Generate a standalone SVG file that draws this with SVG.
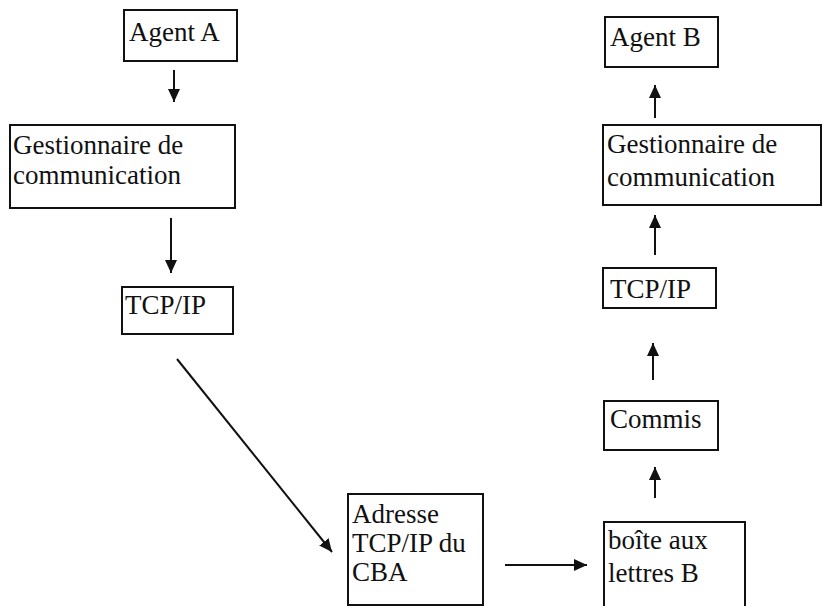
<svg xmlns="http://www.w3.org/2000/svg" width="823" height="606" viewBox="0 0 823 606">
  <style>
    .box { fill: none; stroke: #111; stroke-width: 2; }
    .edge { stroke: #111; stroke-width: 2; fill: none; marker-end: url(#head); }
    .lbl { font-family: 'Liberation Serif', 'Times New Roman', serif; font-size: 27px; fill: #111; }
  </style>
  <defs>
    <marker id="head" markerUnits="userSpaceOnUse" markerWidth="14" markerHeight="14" viewBox="0 0 14 14" refX="13" refY="7" orient="auto">
      <path d="M0,1 L13,7 L0,13 Z" fill="#111"/>
    </marker>
  </defs>
  <rect width="823" height="606" fill="#fff"/>

  <!-- sending side -->
  <g id="agent-a">
    <rect class="box" x="124" y="10" width="113" height="51"/>
    <text class="lbl" x="129" y="41">Agent A</text>
  </g>
  <g id="gestionnaire-a">
    <rect class="box" x="10" y="125" width="225" height="83"/>
    <text class="lbl" x="13" y="154">Gestionnaire de</text>
    <text class="lbl" x="13" y="184">communication</text>
  </g>
  <g id="tcpip-a">
    <rect class="box" x="122" y="287" width="111" height="47"/>
    <text class="lbl" x="125" y="314">TCP/IP</text>
  </g>

  <!-- relay -->
  <g id="adresse-cba">
    <rect class="box" x="348" y="494" width="135" height="111"/>
    <text class="lbl" x="352" y="523">Adresse</text>
    <text class="lbl" x="352" y="552">TCP/IP du</text>
    <text class="lbl" x="352" y="581">CBA</text>
  </g>
  <g id="boite-b">
    <rect class="box" x="604" y="522" width="141" height="90"/>
    <text class="lbl" x="608" y="549">boîte aux</text>
    <text class="lbl" x="608" y="582">lettres B</text>
  </g>

  <!-- receiving side -->
  <g id="commis">
    <rect class="box" x="604" y="401" width="114" height="49"/>
    <text class="lbl" x="610" y="428">Commis</text>
  </g>
  <g id="tcpip-b">
    <rect class="box" x="603" y="268" width="113" height="40"/>
    <text class="lbl" x="610" y="298">TCP/IP</text>
  </g>
  <g id="gestionnaire-b">
    <rect class="box" x="603" y="125" width="218" height="80"/>
    <text class="lbl" x="607" y="153">Gestionnaire de</text>
    <text class="lbl" x="607" y="186">communication</text>
  </g>
  <g id="agent-b">
    <rect class="box" x="605" y="17" width="113" height="50"/>
    <text class="lbl" x="610" y="46">Agent B</text>
  </g>

  <g id="connectors">
    <line class="edge" x1="174" y1="70" x2="174" y2="102"/>
    <line class="edge" x1="171" y1="218" x2="171" y2="273"/>
    <line class="edge" x1="177" y1="359" x2="332" y2="552"/>
    <line class="edge" x1="505" y1="565" x2="587" y2="565"/>
    <line class="edge" x1="655" y1="498" x2="655" y2="467"/>
    <line class="edge" x1="653" y1="380" x2="653" y2="343"/>
    <line class="edge" x1="655" y1="255" x2="655" y2="215"/>
    <line class="edge" x1="655" y1="118" x2="655" y2="85"/>
  </g>
</svg>
